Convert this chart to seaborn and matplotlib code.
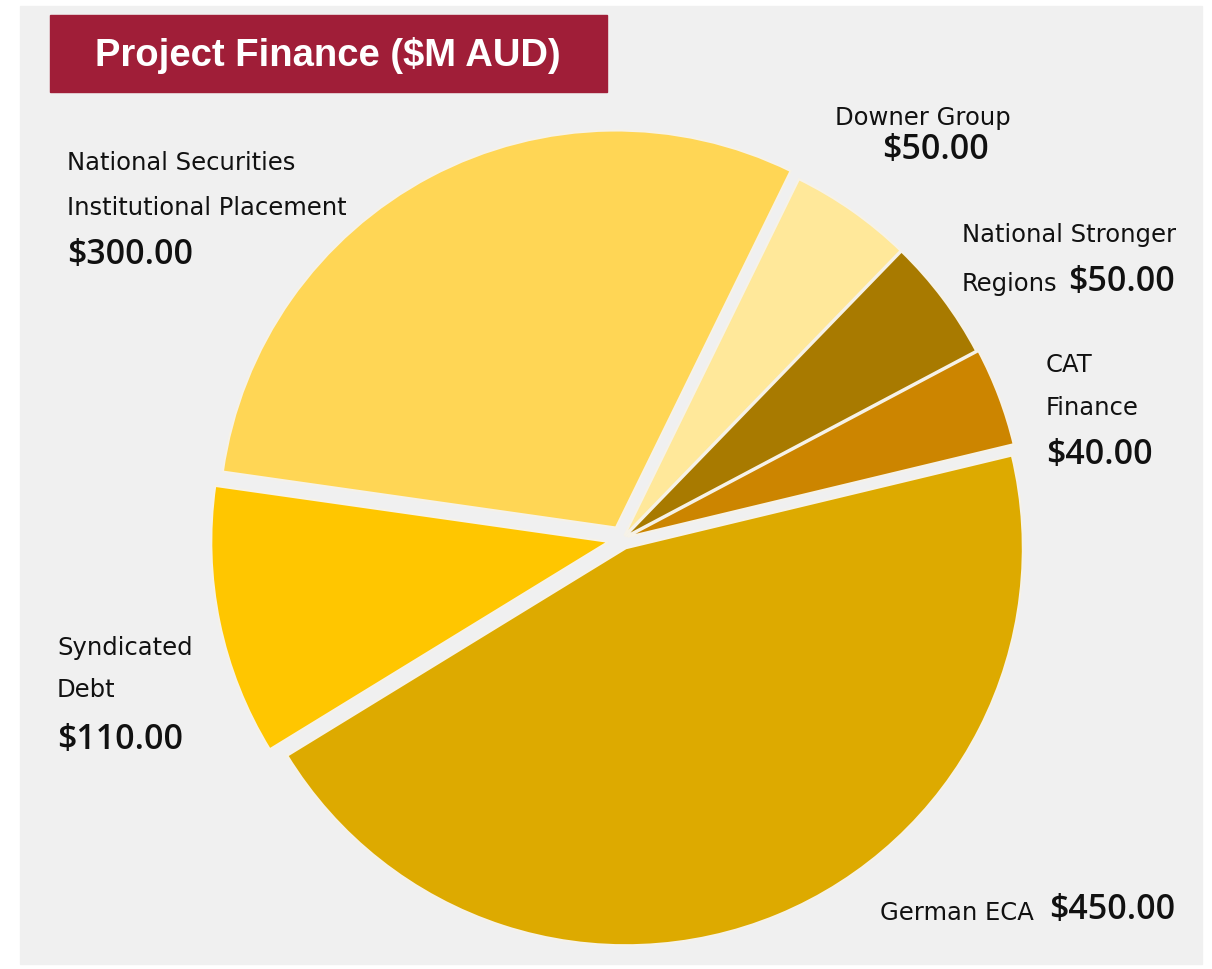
import matplotlib
matplotlib.use("Agg")
import matplotlib.pyplot as plt
import matplotlib.patches as mpatches
import seaborn as sns

# data (clockwise from the CAT / German ECA boundary)
sources = ["German ECA", "Syndicated Debt", "National Securities Institutional Placement",
           "Downer Group", "National Stronger Regions", "CAT Finance"]
amounts = [450, 110, 300, 50, 50, 40]
colours = ["#DDAA00", "#FFC600", "#FFD655", "#FFE89A", "#A87A00", "#CC8500"]

sns.set_theme(style="white")
plt.rcParams["font.family"] = ["DejaVu Sans"]

W, H = 1212, 969
fig = plt.figure(figsize=(W / 100, H / 100), dpi=100)
fig.patch.set_facecolor("white")
# grey card behind everything
fig.patches.append(mpatches.Rectangle((20 / W, 5 / H), 1182 / W, 958 / H,
                                      transform=fig.transFigure, color="#F0F0F0", zorder=-5))

ax = fig.add_axes([0, 0, 1, 1])
ax.set_zorder(1)
ax.patch.set_alpha(0)
cx, cy = 622, H - 539
ax.pie(amounts, colors=colours, startangle=13.5, counterclock=False,
       explode=[10, 14, 13, 4, 4, 6], radius=397, center=(cx, cy),
       wedgeprops=dict(edgecolor="#F6F2E8", linewidth=1.5))
ax.set_aspect("auto")
ax.set_xlim(0, W)
ax.set_ylim(0, H)
ax.axis("off")

# title banner
ax.add_patch(mpatches.Rectangle((50 / W, 1 - 92 / H), 557 / W, 77 / H,
                                transform=fig.transFigure, color="#A01E38", zorder=5))
ax.text(328 / W, 1 - 55 / H, "Project Finance ($M AUD)", ha="center", va="center",
        transform=fig.transFigure, color="white", fontsize=27.5, fontweight="bold",
        family=["Liberation Sans"], zorder=6)


def px(x, y, s, amount=False, ha="left"):
    if amount:
        kw = dict(fontsize=24.5, fontweight="semibold", family=["Open Sans", "DejaVu Sans"])
    else:
        kw = dict(fontsize=17.5, family=["DejaVu Sans"])
    ax.text(x / W, 1 - y / H, s, ha=ha, va="center", color="#111111",
            transform=fig.transFigure, zorder=6, **kw)


def money(v):
    return "$" + f"{v:.2f}"


# National Securities
px(67, 163, "National Securities")
px(67, 208, "Institutional Placement")
px(67, 255, money(amounts[2]), True)
# Downer Group
px(923, 118, "Downer Group", ha="center")
px(935, 150, money(amounts[3]), True, ha="center")
# National Stronger Regions
px(962, 235, "National Stronger")
px(962, 284, "Regions")
px(1068, 282, money(amounts[4]), True)
# CAT Finance
px(1046, 365, "CAT")
px(1046, 408, "Finance")
px(1046, 455, money(amounts[5]), True)
# Syndicated Debt
px(57, 648, "Syndicated")
px(57, 690, "Debt")
px(57, 740, money(amounts[1]), True)
# German ECA
px(880, 913, "German ECA")
px(1049, 910, money(amounts[0]), True)

fig.savefig("out.png", dpi=100, facecolor=fig.get_facecolor())
